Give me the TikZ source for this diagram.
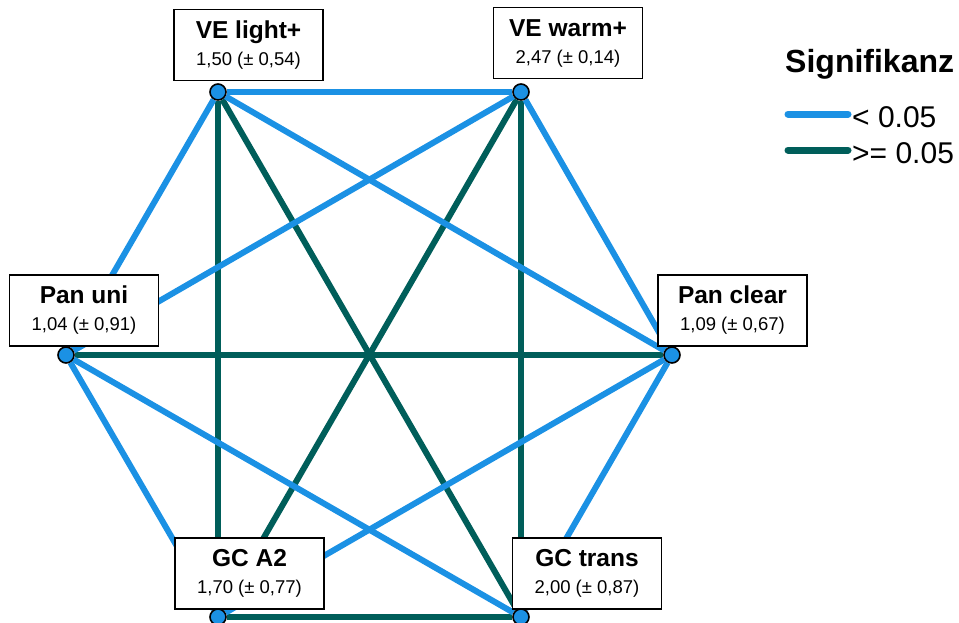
\documentclass[tikz,border=0pt]{standalone}
\usepackage{fontspec}
\setmainfont{Liberation Sans}
\definecolor{sigblue}{RGB}{27,145,228}
\definecolor{nsgreen}{RGB}{0,94,90}
\pgfdeclarelayer{edges}
\pgfdeclarelayer{boxes}
\pgfsetlayers{edges,boxes,main}
\tikzset{
  lbl/.style={draw=black, line width=1.3pt, fill=white, minimum width=149pt, minimum height=71pt, align=center, inner sep=0pt, font=\fontsize{18.5}{27}\selectfont},
  dot/.style={circle, draw=black, line width=1.6pt, fill=sigblue, minimum size=16pt, inner sep=0pt},
  sig/.style={draw=sigblue, line width=6pt},
  ns/.style={draw=nsgreen, line width=6pt},
  legline/.style={line width=7pt, line cap=round},
}
\newcommand{\lab}[2]{{\fontsize{24.5}{27}\selectfont\bfseries #1}\\#2}
\begin{document}
\begin{tikzpicture}[x=1pt,y=-1pt]
\useasboundingbox (0,0) rectangle (959,622);
% dots
\node[dot] (vl) at (218,92) {};
\node[dot] (vw) at (521,92) {};
\node[dot] (pu) at (66,355) {};
\node[dot] (pc) at (672,355) {};
\node[dot] (ga) at (218,617) {};
\node[dot] (gt) at (521,617) {};
% boxes
\begin{pgfonlayer}{boxes}
\node[lbl] (bvl) at (248.5,45) {\lab{VE light+}{1,50 (± 0,54)}};
\node[lbl] (bvw) at (568,43) {\lab{VE warm+}{2,47 (± 0,14)}};
\node[lbl] (bpu) at (84,310.5) {\lab{Pan uni}{1,04 (± 0,91)}};
\node[lbl] (bpc) at (732.5,310.5) {\lab{Pan clear}{1,09 (± 0,67)}};
\node[lbl] (bga) at (249.5,573.5) {\lab{GC A2}{1,70 (± 0,77)}};
\node[lbl] (bgt) at (587,573.5) {\lab{GC trans}{2,00 (± 0,87)}};
\end{pgfonlayer}
% edges
\begin{pgfonlayer}{edges}
\draw[ns] (vl) -- (ga);
\draw[ns] (vl) -- (gt);
\draw[ns] (vw) -- (ga);
\draw[ns] (vw) -- (gt);
\draw[ns] (pu) -- (pc);
\draw[ns] (ga) -- (gt);
\draw[sig] (vl) -- (vw);
\draw[sig] (vl) -- (pu);
\draw[sig] (vl) -- (pc);
\draw[sig] (vw) -- (pu);
\draw[sig] (vw) -- (pc);
\draw[sig] (pu) -- (ga);
\draw[sig] (pu) -- (gt);
\draw[sig] (pc) -- (ga);
\draw[sig] (pc) -- (gt);
\end{pgfonlayer}
% legend
\node[anchor=base west, inner sep=0pt, font=\fontsize{32}{32}\selectfont\bfseries] (legt) at (785,72) {Signifikanz};
\coordinate (l1a) at (788,114);
\coordinate (l1b) at (848,114);
\coordinate (l2a) at (788,150);
\coordinate (l2b) at (848,150);
\draw[legline, sigblue] (l1a) -- (l1b);
\draw[legline, nsgreen] (l2a) -- (l2b);
\node[anchor=base west, inner sep=0pt, font=\fontsize{30}{30}\selectfont] (leg1) at (852,127) {< 0.05};
\node[anchor=base west, inner sep=0pt, font=\fontsize{30}{30}\selectfont] (leg2) at (852,163) {>= 0.05};
\end{tikzpicture}
\end{document}
